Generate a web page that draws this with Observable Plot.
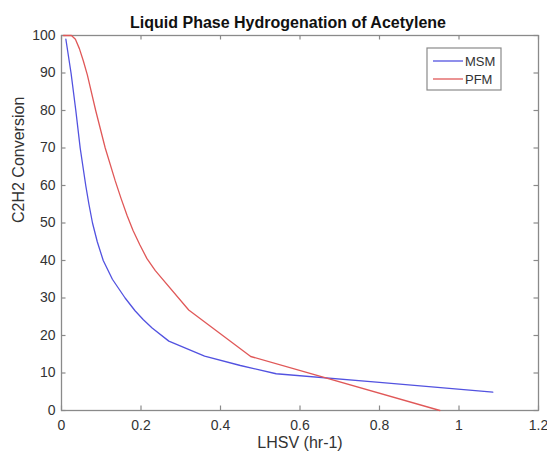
<!DOCTYPE html>
<html>
<head>
<meta charset="utf-8">
<script src="https://cdn.jsdelivr.net/npm/d3@7"></script>
<script src="https://cdn.jsdelivr.net/npm/@observablehq/plot@0.6"></script>
<style>
  html, body { margin: 0; padding: 0; background: #fff; }
  #chart { position: relative; width: 547px; height: 457px; }
</style>
</head>
<body>
<div id="chart"></div>
<script>
const title = "Liquid Phase Hydrogenation of Acetylene";
const xLabel = "LHSV (hr-1)";
const yLabel = "C2H2 Conversion";
const seriesNames = ["MSM", "PFM"];
const seriesColors = ["#5252e0", "#e05858"];

const msmX = [0.011, 0.024, 0.036, 0.047, 0.061, 0.069, 0.078, 0.090, 0.105, 0.128, 0.160, 0.185, 0.206, 0.228, 0.270, 0.360, 0.450, 0.540, 0.800, 1.085];
const msmY = [99, 90, 80, 70, 60, 55, 50, 45, 40, 35, 30, 26.6, 24.2, 22.0, 18.5, 14.5, 12.0, 9.8, 7.5, 4.9];

const pfmX = [0.005, 0.025, 0.035, 0.045, 0.055, 0.065, 0.086, 0.110, 0.135, 0.150, 0.165, 0.180, 0.197, 0.215, 0.236, 0.320, 0.476, 0.952];
const pfmY = [100, 100, 99, 96.5, 93.2, 89.5, 80, 70, 61.3, 56.5, 52, 48, 44.2, 40.5, 37.3, 26.8, 14.4, 0];

const xTicks = [0, 0.2, 0.4, 0.6, 0.8, 1, 1.2];
const yTicks = [0, 10, 20, 30, 40, 50, 60, 70, 80, 90, 100];

const data = [
  ...msmX.map((x, i) => ({series: seriesNames[0], x, y: msmY[i]})),
  ...pfmX.map((x, i) => ({series: seriesNames[1], x, y: pfmY[i]}))
];

const W = 547, H = 457;
const mL = 61, mR = 9, mT = 35, mB = 47;
const tickLenX = 1.2 * 4.5 / (W - mL - mR);   // ~4.5px in x units
const tickLenY = 100 * 4.5 / (H - mT - mB);   // ~4.5px in y units
const axisColor = "#8a8a8a";
const textColor = "#333333";
const font = "'Liberation Sans', Arial, Helvetica, sans-serif";

const chart = Plot.plot({
  width: W,
  height: H,
  marginLeft: mL,
  marginRight: mR,
  marginTop: mT,
  marginBottom: mB,
  style: {fontFamily: font, fontSize: "14px", color: textColor, background: "#fff"},
  x: {domain: [0, 1.2]},
  y: {domain: [0, 100]},
  color: {domain: seriesNames, range: seriesColors},
  marks: [
    Plot.frame({stroke: axisColor, strokeWidth: 1.3}),
    Plot.ruleX(xTicks, {x: d => d, y1: 0, y2: tickLenY, stroke: axisColor, strokeWidth: 1.2}),
    Plot.ruleX(xTicks, {x: d => d, y1: 100, y2: 100 - tickLenY, stroke: axisColor, strokeWidth: 1.2}),
    Plot.ruleY(yTicks, {y: d => d, x1: 0, x2: tickLenX, stroke: axisColor, strokeWidth: 1.2}),
    Plot.ruleY(yTicks, {y: d => d, x1: 1.2, x2: 1.2 - tickLenX, stroke: axisColor, strokeWidth: 1.2}),
    Plot.axisX({ticks: xTicks, tickSize: 0, tickPadding: 10, tickFormat: d => String(d), label: null, fill: textColor, fontSize: 14}),
    Plot.axisY({ticks: yTicks, tickSize: 0, tickPadding: 6, tickFormat: d => String(d), label: null, fill: textColor, fontSize: 14}),
    Plot.line(data, {x: "x", y: "y", stroke: "series", strokeWidth: 1.3, curve: "linear"}),
    Plot.text([title], {frameAnchor: "top", lineAnchor: "middle", dy: -13, dx: -12, text: d => d, fontWeight: "bold", fontSize: 16, fill: "#111"}),
    Plot.text([xLabel], {frameAnchor: "bottom", dy: 37, text: d => d, fontSize: 16, fill: textColor}),
    Plot.text([yLabel], {frameAnchor: "left", dx: -43, rotate: -90, text: d => d, fontSize: 16, fill: textColor})
  ]
});

// Legend drawn inside the SVG (top-right of plot area)
const svg = d3.select(chart);
const lx = W - mR - 111, ly = mT + 13, lw = 74, lh = 42;
const lg = svg.append("g").attr("class", "legend").attr("text-anchor", "start");
lg.append("rect").attr("x", lx).attr("y", ly).attr("width", lw).attr("height", lh)
  .attr("fill", "#fff").attr("stroke", "#8a8a8a").attr("stroke-width", 1.2);
seriesNames.forEach((name, i) => {
  const yy = ly + 13 + i * 18;
  lg.append("line").attr("x1", lx + 6).attr("x2", lx + 36).attr("y1", yy).attr("y2", yy)
    .attr("stroke", seriesColors[i]).attr("stroke-width", 1.3);
  lg.append("text").attr("x", lx + 38).attr("y", yy).attr("dy", "0.35em")
    .attr("text-anchor", "start")
    .attr("font-size", 13).attr("fill", textColor)
    .attr("font-family", font).text(name);
});

document.getElementById("chart").appendChild(chart);
</script>
</body>
</html>
